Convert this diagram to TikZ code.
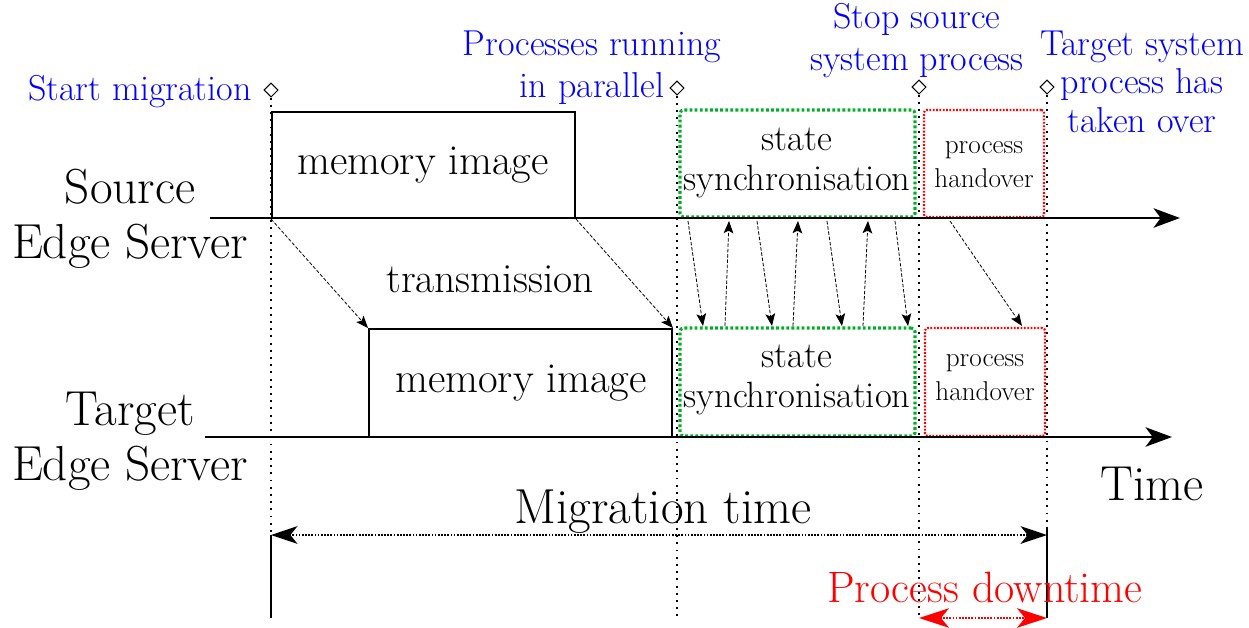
\documentclass[tikz,border=0pt]{standalone}
\usepackage{fontspec}
\usetikzlibrary{arrows.meta,shapes.geometric,fit}
\definecolor{syncgreen}{RGB}{0,175,40}
\newcommand{\fsz}[2]{\fontsize{#1}{#2}\selectfont}

\begin{document}
\begin{tikzpicture}[x=0.02cm,y=-0.02cm,
  axis/.style={line width=1.6pt,-{Stealth[length=15pt,width=11pt,inset=4pt]}},
  membox/.style={draw,line width=1.1pt,inner sep=0pt},
  memtext/.style={font=\fsz{24.3}{29},inner sep=0pt,anchor=base},
  syncbox/.style={draw=syncgreen,line width=1.8pt,dash pattern=on 1.6pt off 1.3pt,rounded corners=2pt,inner sep=0pt},
  synctext/.style={font=\fsz{20.8}{22.7},inner sep=0pt,align=center,anchor=base},
  hobox/.style={draw=red,line width=1.2pt,dash pattern=on 1pt off 0.9pt,rounded corners=1.5pt,inner sep=0pt},
  hotext/.style={font=\fsz{15.5}{19.2},inner sep=0pt,align=center,anchor=base},
  msg/.style={line width=0.45pt,dash pattern=on 2pt off 1pt,-{Stealth[length=7pt,width=5.5pt,inset=1.5pt]}},
  guide/.style={line width=1.1pt,dash pattern=on 1.1pt off 3pt},
  event/.style={draw,diamond,line width=0.6pt,inner sep=0pt,minimum size=8.2pt},
  evlabel/.style={text=blue,font=\fsz{20.5}{23.8},inner sep=0pt,align=center},
  bigtext/.style={font=\fsz{28}{31.2},inner sep=0pt,align=center},
  durarrow/.style={line width=1.6pt,dash pattern=on 1pt off 0.8pt,
    {Stealth[length=15pt,width=10pt,inset=4pt]}-{Stealth[length=15pt,width=10pt,inset=4pt]}},
]
\useasboundingbox (0,0) rectangle (1249,627);

% time axes of the two servers
\coordinate (sa) at (210,218); \coordinate (sb) at (1180,218);
\coordinate (ta) at (205,437); \coordinate (tb) at (1172,437);

% events and their guide lines
\node[event] (ev1) at (271,90) {};
\node[event] (ev2) at (677,88) {};
\node[event] (ev3) at (919,87) {};
\node[event] (ev4) at (1047,87) {};
\coordinate (g1) at (271,533);
\coordinate (g2) at (677,617);
\coordinate (g3) at (919,617);
\coordinate (g4) at (1047,528);
\draw[guide] (ev1.south) -- (g1);
\draw[guide] (ev2.south) -- (g2);
\draw[guide] (ev3.south) -- (g3);
\draw[guide] (ev4.south) -- (g4);

% phases on the source server
\node[membox,fit={(272,112)(575,218)}] (srcmem) {};
\node[syncbox,fit={(680,110)(915,217)}] (srcsync) {};
\node[hobox,fit={(924,110)(1044,217)}] (srcho) {};
\node[memtext] (srcmemt) at (423,174) {memory image};
\node[synctext] (srcsynct) at (797,190) {state\\synchronisation};
\node[hotext] (srchot) at (984,187) {process\\handover};

% phases on the target server
\node[membox,fit={(369,329)(672,437)}] (tgtmem) {};
\node[syncbox,fit={(680,328)(915,436)}] (tgtsync) {};
\node[hobox,fit={(925,328)(1045,436)}] (tgtho) {};
\node[memtext] (tgtmemt) at (521,392) {memory image};
\node[synctext] (tgtsynct) at (797,407) {state\\synchronisation};
\node[hotext] (tgthot) at (985,400) {process\\handover};

\draw[axis] (sa) -- (sb);
\draw[axis] (ta) -- (tb);

% transmission of the memory image
\draw[msg] (srcmem.south west) -- (tgtmem.north west);
\draw[msg] (srcmem.south east) -- (tgtmem.north east);
\node[font=\fsz{23.6}{28},inner sep=0pt,anchor=base] (trans) at (490,292) {transmission};

% state synchronisation messages
\coordinate (s1) at (688,221); \coordinate (t1) at (703,326);
\coordinate (s2) at (757,221); \coordinate (t2) at (772,326);
\coordinate (s3) at (827,221); \coordinate (t3) at (842,326);
\coordinate (s4) at (895,221); \coordinate (t4) at (908,326);
\coordinate (u1) at (725,326); \coordinate (v1) at (729,221);
\coordinate (u2) at (793,326); \coordinate (v2) at (798,221);
\coordinate (u3) at (863,326); \coordinate (v3) at (868,221);
\foreach \i in {1,...,4} {\draw[msg] (s\i) -- (t\i);}
\foreach \i in {1,...,3} {\draw[msg] (u\i) -- (v\i);}

% handover message
\coordinate (h1) at (950,221); \coordinate (h2) at (1022,326);
\draw[msg] (h1) -- (h2);

% event labels
\node[evlabel,anchor=base east] (lstart) at (252,100) {Start migration};
\node[evlabel,anchor=base] (lpar) at (592,97) {Processes running\\in parallel};
\node[evlabel,anchor=base] (lstop) at (917,70) {Stop source\\system process};
\node[evlabel,anchor=base,font=\fsz{20.5}{21.8}] (ltgt) at (1142,132) {Target system\\process has\\taken over};

% server names and time
\node[bigtext,anchor=base] (srcname) at (130,258) {Source\\Edge Server};
\node[bigtext,anchor=base] (tgtname) at (130,480) {Target\\Edge Server};
\node[bigtext,anchor=base] (timelbl) at (1152,500) {Time};

% migration time and downtime
\coordinate (ml) at (271,535); \coordinate (mlb) at (271,618);
\coordinate (mr) at (1047,535); \coordinate (mrt) at (1047,528); \coordinate (mrb) at (1047,618);
\draw[line width=1.2pt] (ml) -- (mlb);
\draw[line width=1.5pt] (mrt) -- (mrb);
\draw[durarrow] (ml) -- (mr);
\node[bigtext,anchor=base] (migtime) at (663,523) {Migration time};

\coordinate (dl) at (919,618); \coordinate (dr) at (1047,618);
\draw[durarrow,red,{Stealth[length=17pt,width=11pt,inset=4.5pt]}-{Stealth[length=17pt,width=11pt,inset=4.5pt]}] (dl) -- (dr);
\node[inner sep=0pt,anchor=base,text=red,font=\fsz{25}{29}] (downtime) at (985,602) {Process downtime};
\end{tikzpicture}
\end{document}
